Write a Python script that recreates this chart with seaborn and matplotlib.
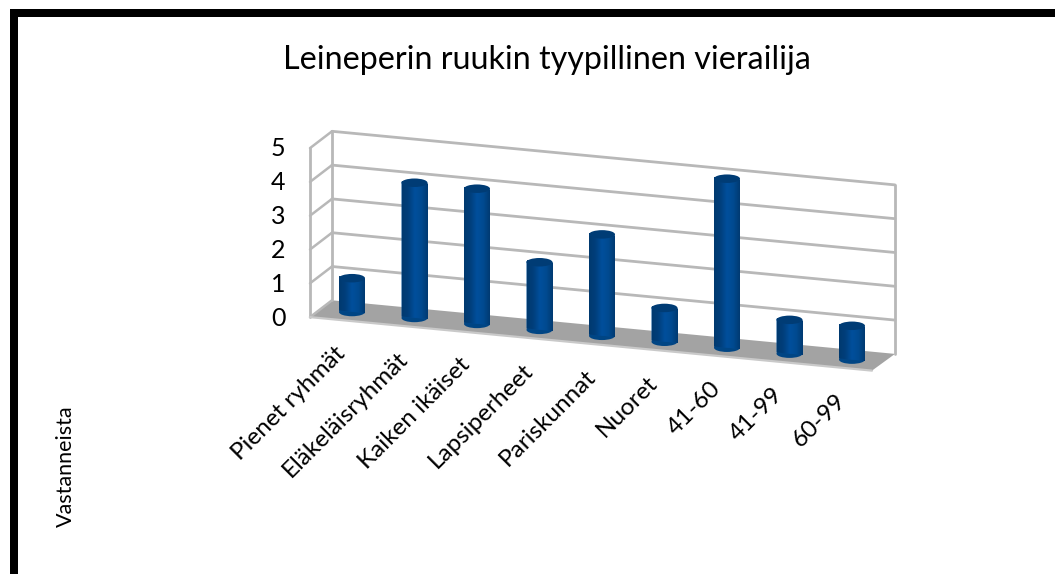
import numpy as np
import matplotlib
matplotlib.use("Agg")
import matplotlib.pyplot as plt
from matplotlib.patches import Ellipse, Polygon, Rectangle
from matplotlib.transforms import Affine2D
from matplotlib.colors import LinearSegmentedColormap
import seaborn as sns

categories = ["Pienet ryhmät", "Eläkeläisryhmät", "Kaiken ikäiset", "Lapsiperheet",
              "Pariskunnat", "Nuoret", "41-60", "41-99", "60-99"]
values = [1, 4, 4, 2, 3, 1, 5, 1, 1]
y_ticks = [0, 1, 2, 3, 4, 5]
title = "Leineperin ruukin tyypillinen vierailija"
side_label = "Vastanneista"

W, H = 1055, 574
X0, STEP = 352.0, 62.5      # pixel position of first category, pixels per category
Y0, UNIT = 312.0, 33.8      # pixel height of value 0 at the first category, pixels per unit
SLOPE = 0.0952              # downward slope of the floor

sns.set_theme(style="white")
plt.rcParams["font.family"] = ["Lato", "DejaVu Sans"]

fig = plt.figure(figsize=(W / 100, H / 100), dpi=100, facecolor="white")
ax = fig.add_axes([0, 0, 1, 1])
sns.barplot(x=categories, y=values, ax=ax, width=0.416, color="#004a90", saturation=1,
            zorder=3, linewidth=0)
ax.set_xlim(-X0 / STEP, (W - X0) / STEP)
ax.set_ylim((Y0 - H) / UNIT, Y0 / UNIT)
ax.axis("off")
bars = [q for q in ax.patches if isinstance(q, Rectangle)]

# shear: the whole 3D plane slopes downward to the right
shear = Affine2D.from_values(1, -SLOPE, 0, 1, 0, SLOPE * X0)
T = ax.transData + shear

def plain_y(x, v):
    return v - SLOPE * STEP * x / UNIT

BACK, FRONT = 0.29, -0.27
XBL, XBR = (332 - X0) / STEP, (895 - X0) / STEP
XFL, XFR = (310 - X0) / STEP, (872 - X0) / STEP
top = max(y_ticks)
GRID, FLOOR = "#b8b8b8", "#a3a3a3"

# floor
ax.add_patch(Polygon([(XFL, FRONT), (XBL, BACK), (XBR, BACK), (XFR, FRONT)], closed=True,
                     fc=FLOOR, ec="none", transform=T, zorder=1))
ax.plot([XFL, XFR], [FRONT, FRONT], color="#c9c9c9", lw=1.6, transform=T, zorder=1.5)

# walls and grid
for v in y_ticks:
    ax.plot([XFL, XBL], [FRONT + v, BACK + v], color=GRID, lw=1.8, transform=T, zorder=1.2)
    if v > 0:
        ax.plot([XBL, XBR], [BACK + v, BACK + v], color=GRID, lw=2.0, transform=T, zorder=1.2)
for xx, b in [(XFL, FRONT), (XBL, BACK), (XBR, BACK)]:
    ax.plot([xx, xx], [b, b + top], color=GRID, lw=2.0, transform=T, zorder=1.2)

# cylinders
cmap = LinearSegmentedColormap.from_list("cyl", ["#00396f", "#003f7c", "#004f9c", "#004a90", "#003a72"])
grad = np.linspace(0, 1, 64).reshape(1, -1)
eh = 8.5 / UNIT
for p in bars:
    x, w, h = p.get_x(), p.get_width(), p.get_height()
    p.set_transform(T)
    cx = x + w / 2
    ax.add_patch(Ellipse((cx, plain_y(cx, 0)), w, eh, fc="#004584", ec="none", zorder=2.9))
    ax.imshow(grad, extent=[x, x + w, 0, h], cmap=cmap, aspect="auto",
              transform=T, zorder=3.1, interpolation="bilinear")
    ax.add_patch(Ellipse((cx, plain_y(cx, h)), w, eh, fc="#003c75", ec="none", zorder=3.2))
ax.set_xlim(-X0 / STEP, (W - X0) / STEP)
ax.set_ylim((Y0 - H) / UNIT, Y0 / UNIT)

# y tick labels
for v in y_ticks:
    ax.text((278 - X0) / STEP, (Y0 - (316 - UNIT * v)) / UNIT, str(v), ha="center", va="center_baseline",
            fontsize=18, color="black")

# category labels
for i, c in enumerate(categories):
    ax.text(i - 0.28, plain_y(i, 0) - 0.9, c, rotation=45, ha="right", va="top",
            rotation_mode="anchor", fontsize=17.5, color="black")

fig.text(547 / W, 1 - 60 / H, title, ha="center", va="center", fontsize=23.2, color="black")
fig.text(66 / W, 1 - 466 / H, side_label, rotation=90, ha="center", va="center", fontsize=15.5, color="black")

# outer frame: only the top and left edges show in the crop
fig.add_artist(Rectangle((10 / W, 1 - 17 / H), (W - 10) / W, 8 / H, transform=fig.transFigure,
                         fc="black", ec="none"))
fig.add_artist(Rectangle((10 / W, 0), 7.5 / W, 1 - 9 / H, transform=fig.transFigure,
                         fc="black", ec="none"))
fig.savefig("out.png", dpi=100)
